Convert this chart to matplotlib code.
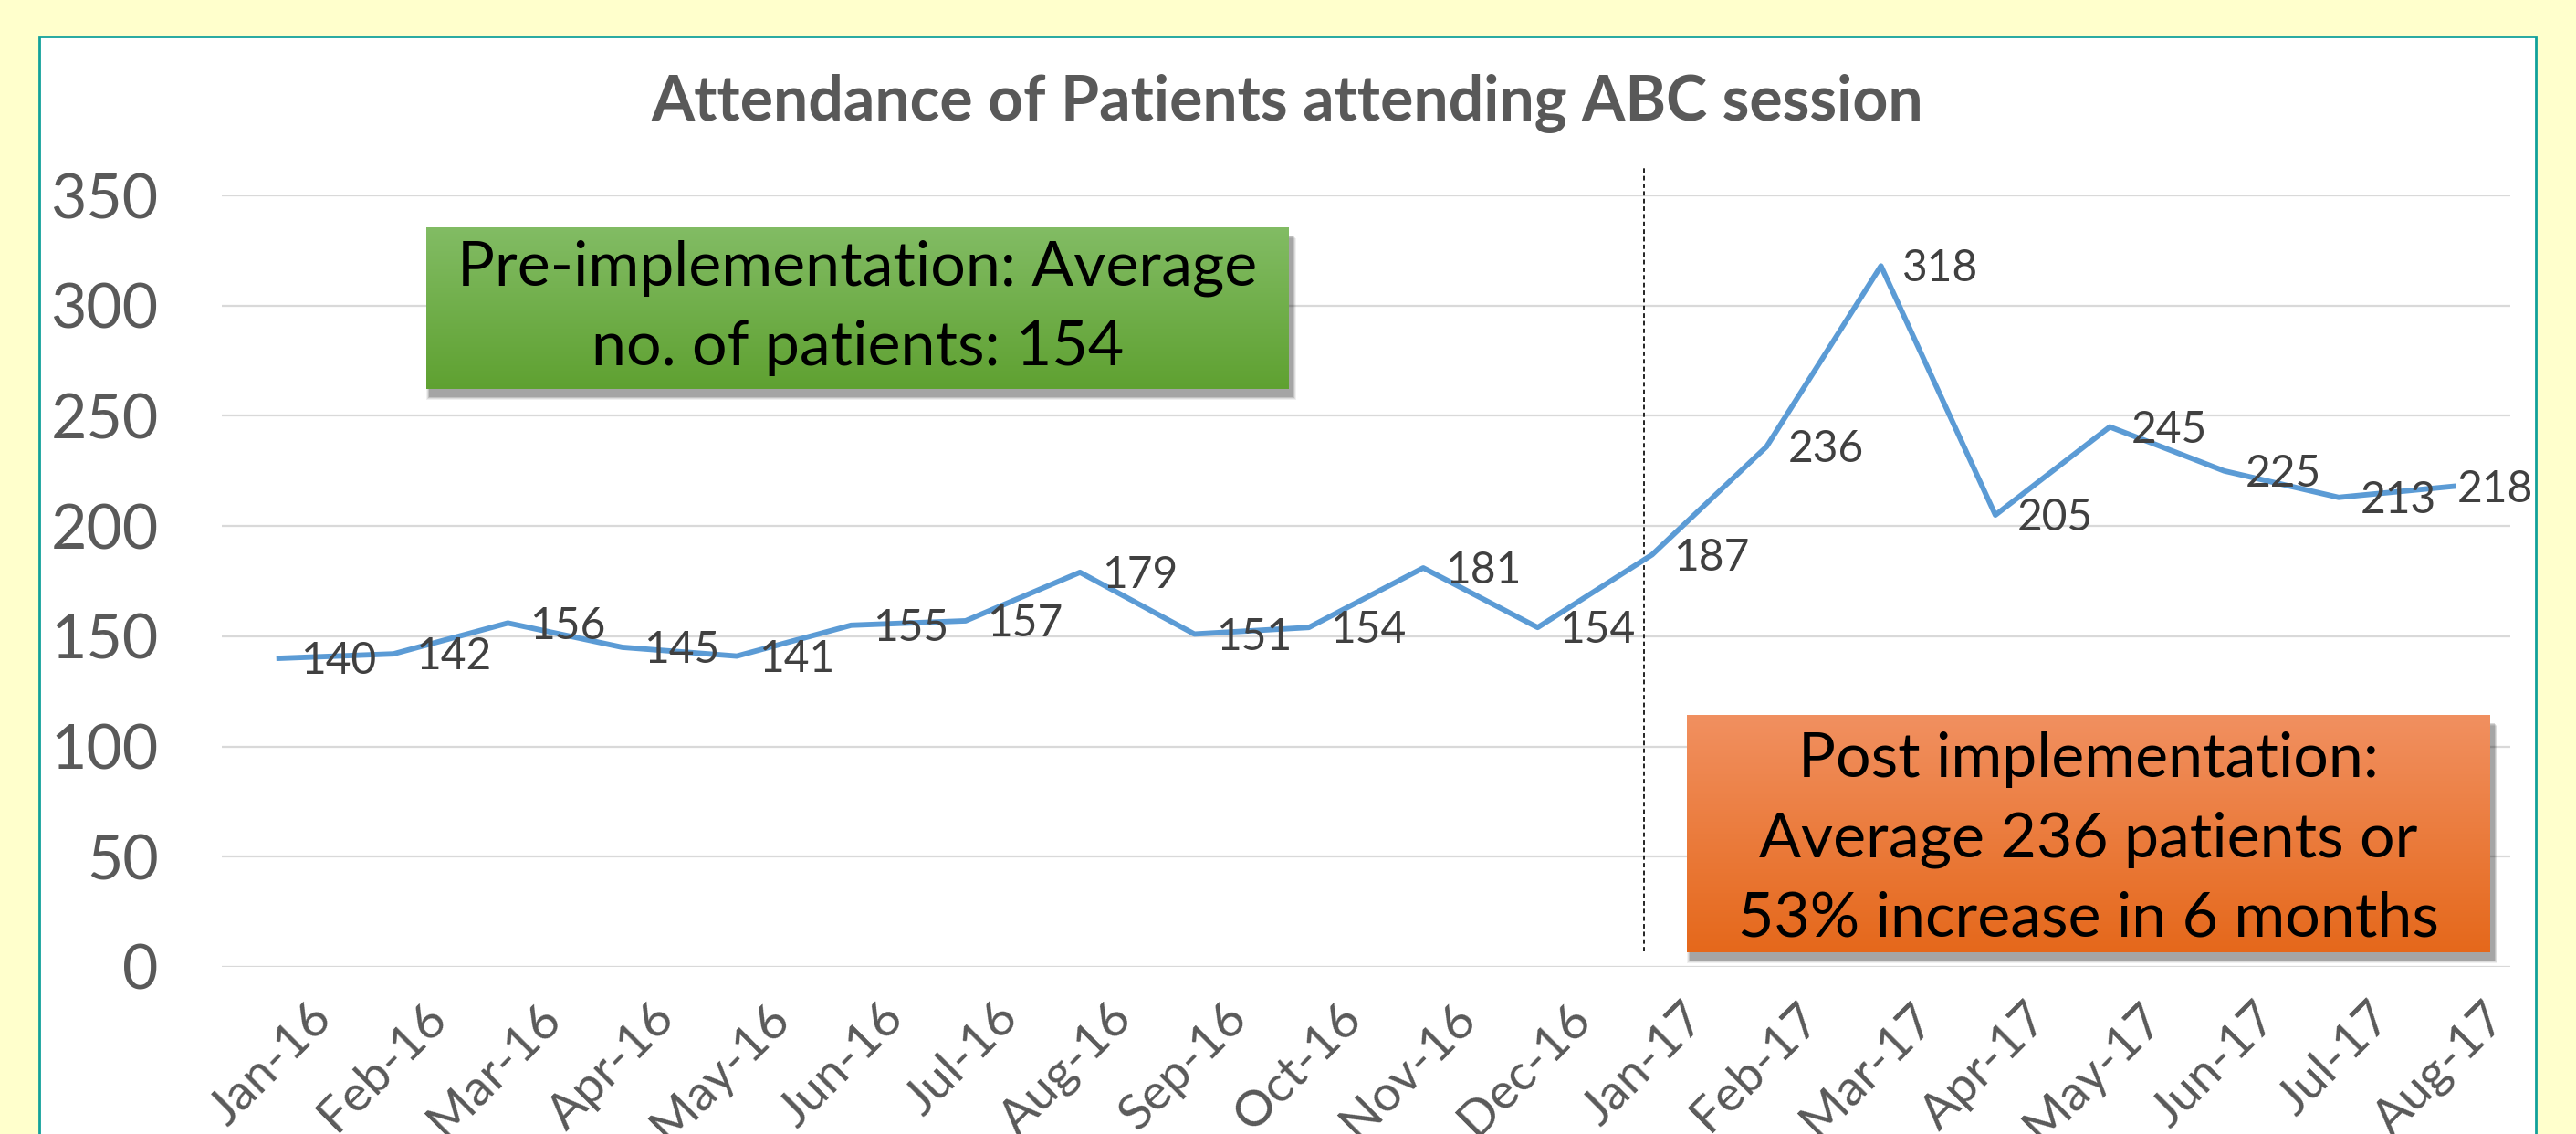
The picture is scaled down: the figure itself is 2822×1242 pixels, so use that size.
import numpy as np
import matplotlib
matplotlib.use("Agg")
import matplotlib.pyplot as plt
from matplotlib.patches import Rectangle
from matplotlib.colors import to_rgb
from matplotlib.transforms import ScaledTranslation

# ---------------- data ----------------
months = ["Jan-16", "Feb-16", "Mar-16", "Apr-16", "May-16", "Jun-16", "Jul-16",
          "Aug-16", "Sep-16", "Oct-16", "Nov-16", "Dec-16", "Jan-17", "Feb-17",
          "Mar-17", "Apr-17", "May-17", "Jun-17", "Jul-17", "Aug-17"]
patients = [140, 142, 156, 145, 141, 155, 157, 179, 151, 154, 181, 154,
            187, 236, 318, 205, 245, 225, 213, 218]
y_ticks = [0, 50, 100, 150, 200, 250, 300, 350]
title = "Attendance of Patients attending ABC session"
pre_text = "Pre-implementation: Average\nno. of patients: 154"
post_text = "Post implementation:\nAverage 236 patients or\n53% increase in 6 months"

# ---------------- layout ----------------
W, H = 2822, 1242
DPI = 100
plt.rcParams['font.family'] = ['Lato', 'DejaVu Sans']

fig = plt.figure(figsize=(W / DPI, H / DPI), dpi=DPI)
fig.patch.set_facecolor('#FFFFCC')

def fx(px):
    return px / W

def fy(py):
    return 1 - py / H

# white panel with teal border
panel = Rectangle((fx(43), -0.05), fx(2778) - fx(43), fy(40) + 0.05,
                  transform=fig.transFigure, facecolor='white',
                  edgecolor='#12A19B', lw=2.0, zorder=0)
fig.add_artist(panel)

ax = fig.add_axes([fx(243), fy(1059), fx(2750) - fx(243), fy(214) - fy(1059)])
ax.set_facecolor('none')
x = np.arange(len(months))
ax.set_xlim(-0.5, len(months) - 0.5)
ax.set_ylim(0, 350)
ax.set_yticks(y_ticks)
ax.set_yticklabels([str(t) for t in y_ticks])
ax.yaxis.grid(True, color='#D9D9D9', lw=1.6)
ax.set_axisbelow(True)
for s in ax.spines.values():
    s.set_visible(False)
ax.tick_params(axis='y', length=0, pad=50, labelsize=49, labelcolor='#595959')
ax.set_xticks(x)
ax.set_xticklabels(months, rotation=45, ha='right', va='top',
                   rotation_mode='anchor', fontsize=39.5, color='#595959')
ax.tick_params(axis='x', length=0, pad=22)
shift = ScaledTranslation(32 / DPI, 0, fig.dpi_scale_trans)
for lab in ax.get_xticklabels():
    lab.set_transform(lab.get_transform() + shift)

ax.plot(x, patients, color='#5B9BD5', lw=4.2, solid_joinstyle='round', zorder=3)

label_fs = 34.5
cap_half = 0.717 * label_fs / 2
for i, v in enumerate(patients):
    dx = 17 if i < len(patients) - 1 else 3
    ax.annotate(str(v), (i, v), xytext=(dx, -cap_half), textcoords='offset points',
                ha='left', va='baseline', fontsize=label_fs, color='#404040',
                zorder=4, annotation_clip=False)

# divider between pre and post periods
split = 11.93
ax.plot([split, split], [7, 363], color='#222222', lw=1.4,
        linestyle=(0, (2.5, 1.8)), clip_on=False, zorder=2)

# title
fig.text(fx(1410), fy(132), title, ha='center', va='baseline',
         fontsize=49, fontweight='bold', color='#595959')

def gradient_box(x0, y0, x1, y1, c_top, c_bot, text, fs, ty=0.5):
    # soft shadow
    for k, a in [(12, 0.06), (9, 0.08), (6, 0.12), (3, 0.15)]:
        r = Rectangle((fx(x0 + 4 - k / 3), fy(y1 + 8 + k / 3)),
                      fx(x1 - x0 + 2 * k / 3), fy(y0) - fy(y1),
                      transform=fig.transFigure, facecolor='black',
                      edgecolor='none', alpha=a, zorder=5)
        fig.add_artist(r)
    bax = fig.add_axes([fx(x0), fy(y1), fx(x1) - fx(x0), fy(y0) - fy(y1)], zorder=6)
    bax.axis('off')
    t = np.linspace(0, 1, 256)[:, None]
    ct, cb = np.array(to_rgb(c_top)), np.array(to_rgb(c_bot))
    img = ct[None, None, :] * (1 - t[..., None]) + cb[None, None, :] * t[..., None]
    img = np.repeat(img, 2, axis=1)
    bax.imshow(img, aspect='auto', extent=[0, 1, 0, 1], origin='upper')
    bax.set_xlim(0, 1)
    bax.set_ylim(0, 1)
    bax.text(0.5, ty, text, ha='center', va='center', fontsize=fs,
             color='black', linespacing=1.5, transform=bax.transAxes)

gradient_box(467, 249, 1412, 426, '#82BC64', '#5FA131', pre_text, 49)
gradient_box(1848, 783, 2728, 1043, '#F19060', '#E5681B', post_text, 49, ty=0.475)

fig.savefig('out.png', dpi=DPI, facecolor=fig.get_facecolor())
